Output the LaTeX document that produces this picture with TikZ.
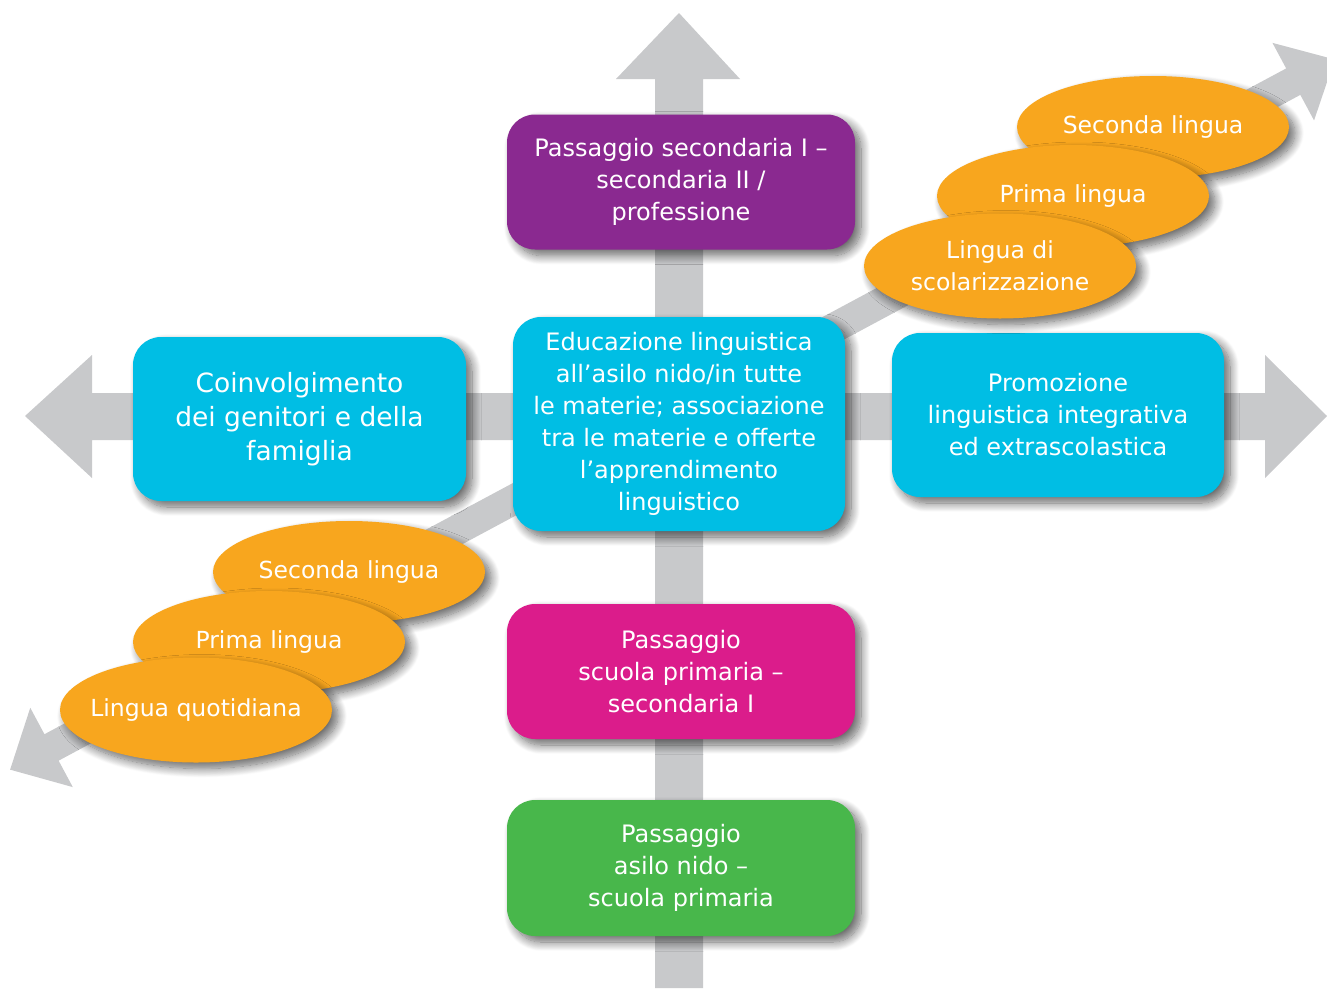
\documentclass[tikz,border=0pt]{standalone}
\usepackage{fontspec}
\setmainfont{DejaVu Sans}
\usetikzlibrary{shapes.geometric,shadows.blur}
\definecolor{barc}{RGB}{200,201,203}
\definecolor{purp}{RGB}{138,41,144}
\definecolor{cyanb}{RGB}{0,190,228}
\definecolor{magb}{RGB}{219,28,139}
\definecolor{greenb}{RGB}{72,183,75}
\definecolor{orng}{RGB}{248,166,30}
\tikzset{
  shd/.style={blur shadow={shadow xshift=6pt, shadow yshift=-6pt, shadow blur radius=9pt, shadow blur steps=14, shadow opacity=60}},
  box/.style={shd, rounded corners=28pt, inner sep=0pt, text=white, align=center,
    font=\fontsize{24}{32}\selectfont},
  oval/.style={shd, ellipse, fill=orng, inner xsep=-70pt, inner ysep=-12pt, text=white, align=center,
    minimum width=272pt, minimum height=102pt, font=\fontsize{23.5}{32}\selectfont},
  bar/.style={fill=barc, draw=none}
}
\begin{document}
\begin{tikzpicture}[x=1pt,y=-1pt]
\useasboundingbox (0,0) rectangle (1327,988);
% vertical arrow
\fill[barc] (655,79) -- (616,79) -- (679,13) -- (740,79) -- (703,79) -- (703,988) -- (655,988) -- cycle;
% horizontal arrow
\fill[barc] (92,393) -- (92,355) -- (25,416) -- (92,478) -- (92,440) -- (1265,440) -- (1265,478) -- (1327,416) -- (1265,355) -- (1265,393) -- cycle;
% diagonal arrow
\begin{scope}[shift={(679,411)}, rotate=28.2]
\fill[barc] (-712,-15) -- (-712,-45) -- (-759,0) -- (-712,45) -- (-712,15) -- (697,15) -- (697,44) -- (744,0) -- (697,-44) -- (697,-15) -- cycle;
\end{scope}
% boxes
\node[box, fill=purp, minimum width=348pt, minimum height=135pt] (sec) at (681,182)
  {Passaggio secondaria I –\\secondaria II /\\professione};
\node[box, fill=cyanb, minimum width=332pt, minimum height=214pt] (edu) at (679,424)
  {Educazione linguistica\\all’asilo nido/in tutte\\le materie; associazione\\tra le materie e offerte\\l’apprendimento\\linguistico};
\node[box, fill=cyanb, minimum width=333pt, minimum height=164pt, font=\fontsize{26.5}{34}\selectfont] (gen) at (299.5,419)
  {Coinvolgimento\\dei genitori e della\\famiglia};
\node[box, fill=cyanb, minimum width=332pt, minimum height=164pt] (pro) at (1058,415)
  {Promozione\\linguistica integrativa\\ed extrascolastica};
\node[box, fill=magb, minimum width=348pt, minimum height=135pt] (pri) at (681,671.5)
  {Passaggio\\scuola primaria –\\secondaria I};
\node[box, fill=greenb, minimum width=348pt, minimum height=136pt] (asi) at (681,868)
  {Passaggio\\asilo nido –\\scuola primaria};
% top-right ellipses
\node[oval] (tr2) at (1153,127) {Seconda lingua};
\node[oval] (tr1) at (1073,196) {Prima lingua};
\node[oval, minimum height=105pt] (tr0) at (1000,266) {Lingua di\\scolarizzazione};
% bottom-left ellipses
\node[oval] (bl2) at (349,572) {Seconda lingua};
\node[oval] (bl1) at (269,642) {Prima lingua};
\node[oval, minimum height=105pt] (bl0) at (196,710) {Lingua quotidiana};
\end{tikzpicture}
\end{document}
